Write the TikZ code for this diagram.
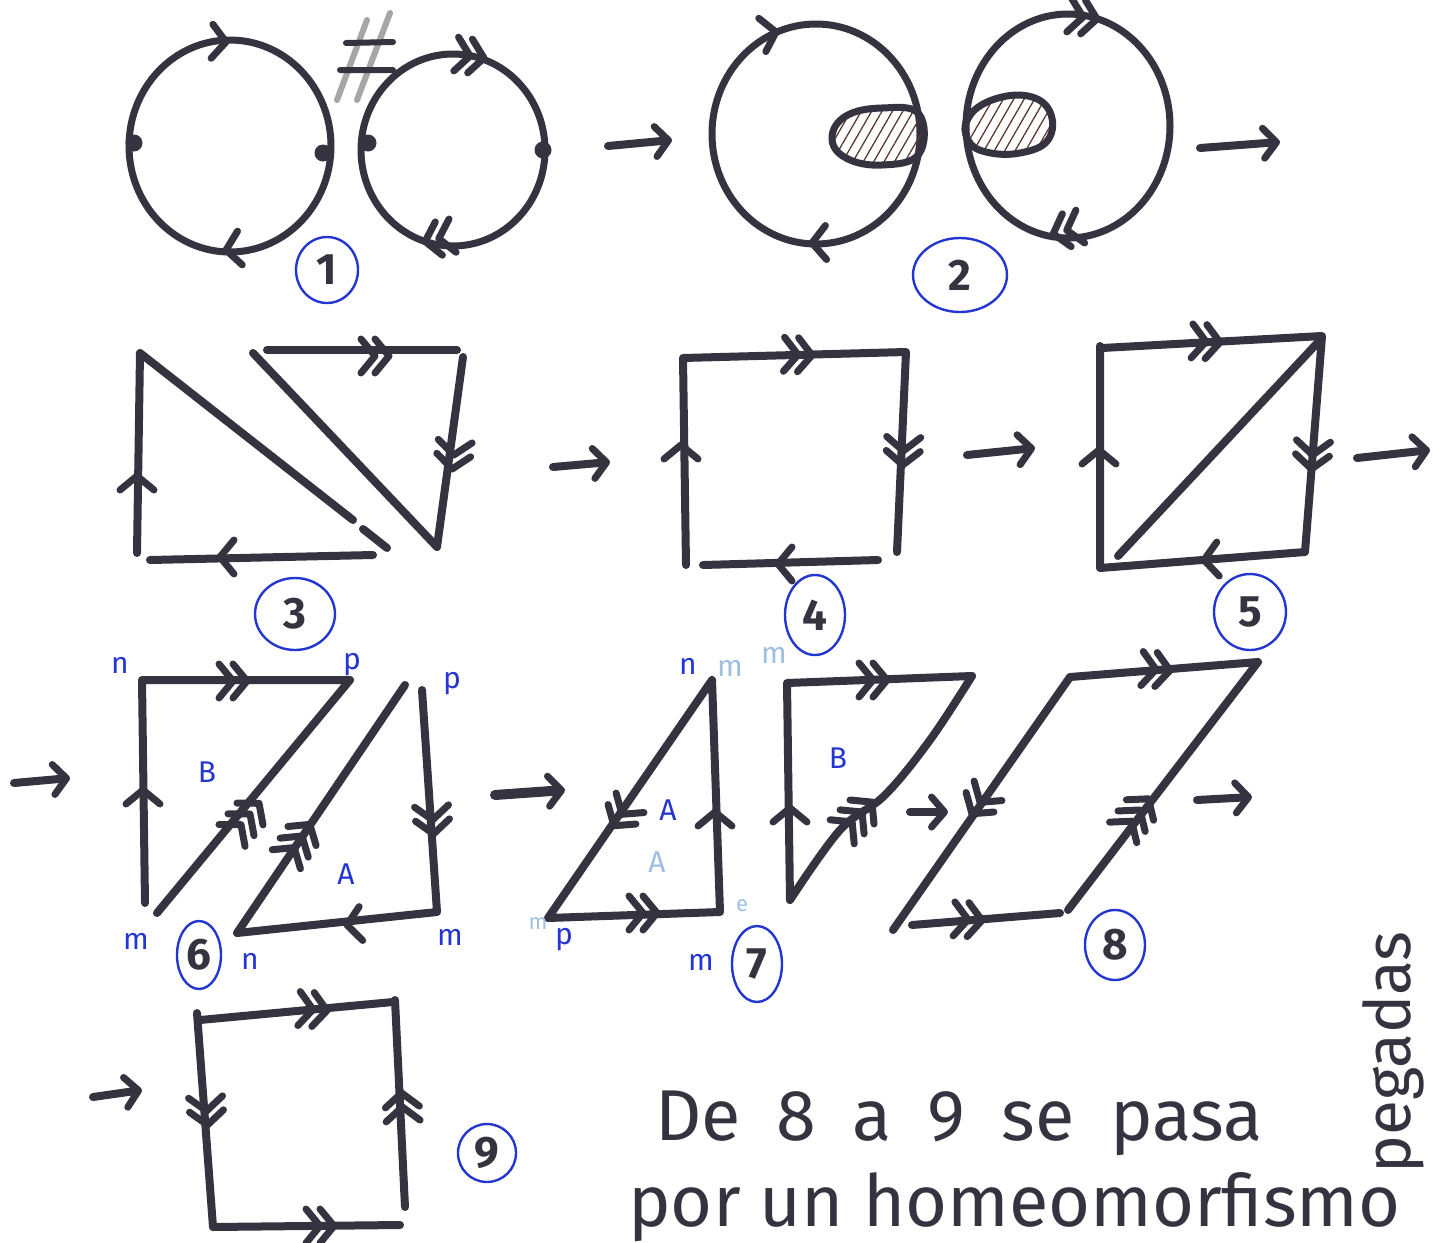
\documentclass[tikz,border=0pt]{standalone}
\usepackage{fontspec}
\setmainfont{Fira Sans}
\usetikzlibrary{arrows.meta,patterns.meta,shapes.geometric}
\definecolor{ink}{HTML}{34333F}
\definecolor{bpen}{HTML}{2436D0}
\definecolor{fade}{HTML}{9FBFE0}
\definecolor{hatch}{HTML}{5A3A30}
\tikzset{
  stroke/.style={draw=ink, line width=8pt, line cap=round, line join=round},
  loopline/.style={draw=ink, line width=7pt},
  chevs/.style={draw=ink, line width=7pt, line cap=round, line join=round},
  ch1/.pic={\draw[chevs] (-14,-17) -- (0,0) -- (-14,17);},
  ch2/.pic={\draw[chevs] (-7,-17) -- (7,0) -- (-7,17) (-21,-17) -- (-7,0) -- (-21,17);},
  ch3/.pic={\draw[chevs] (0,-17) -- (14,0) -- (0,17) (-14,-17) -- (0,0) -- (-14,17) (-28,-17) -- (-14,0) -- (-28,17);},
  goarrow/.style={draw=ink, line width=8pt, line cap=round,
     -{Straight Barb[length=13pt,width=30pt,line width=7pt,round]}},
  numcirc/.style={ellipse, draw=bpen, line width=2.4pt, inner sep=0pt,
     text=ink, font=\fontsize{44}{44}\selectfont\bfseries},
  lbl/.style={text=bpen, font=\fontsize{30}{30}\selectfont, inner sep=0pt},
  flbl/.style={text=fade, font=\fontsize{30}{30}\selectfont, inner sep=0pt},
  hand/.style={text=ink, font=\fontsize{72}{72}\selectfont, inner sep=0pt},
  dot/.style={circle, fill=ink, inner sep=0pt, minimum size=17pt},
  hatched/.style={loopline, pattern={Lines[angle=60,distance=9pt,line width=1.3pt]}, pattern color=hatch}
}
\begin{document}
\begin{tikzpicture}[x=1pt,y=-1pt]
\useasboundingbox (0,0) rectangle (1444,1243);

% ---------- figure 1 ----------
\draw[loopline] (230,146) ellipse [x radius=101pt, y radius=106pt];
\draw[loopline] (453,150) ellipse [x radius=92pt, y radius=96pt];
\node[dot] (d1) at (134,143) {};
\node[dot] (d2) at (323,153) {};
\node[dot] (d3) at (368,143) {};
\node[dot] (d4) at (543,150) {};
\pic[rotate=-3] at (226,42) {ch1};
\pic[rotate=188] at (226,250) {ch1};
\pic[rotate=-8] at (477,57) {ch2};
\pic[rotate=192] at (432,240) {ch2};
\draw[draw=gray!70, line width=6pt, line cap=round] (337,100) -- (367,20) (357,100) -- (390,13);
\draw[stroke, line width=6pt] (346,43) -- (393,42) (340,70) -- (393,70);
\node[numcirc, minimum width=62pt, minimum height=66pt] (n1) at (327,270) {1};
\coordinate (a1s) at (608,146); \coordinate (a1e) at (672,140);
\draw[goarrow] (a1s) -- (a1e);

% ---------- figure 2 ----------
\draw[loopline] (816,134) ellipse [x radius=104pt, y radius=110pt];
\draw[loopline] (1068,126) ellipse [x radius=102pt, y radius=112pt];
\draw[hatched] plot[smooth cycle, tension=0.7] coordinates
  {(919,114) (882,108) (846,116) (832,138) (846,158) (882,165) (919,154)};
\draw[hatched] plot[smooth cycle, tension=0.7] coordinates
  {(968,118) (992,100) (1028,96) (1050,112) (1048,140) (1020,153) (986,152) (968,140)};
\pic[rotate=12] at (776,32) {ch1};
\pic[rotate=182] at (812,243) {ch1};
\pic[rotate=-8] at (1090,18) {ch2};
\pic[rotate=195] at (1060,232) {ch2};
\node[numcirc, minimum width=94pt, minimum height=74pt] (n2) at (960,275) {2};
\coordinate (a2s) at (1200,148); \coordinate (a2e) at (1280,142);
\draw[goarrow] (a2s) -- (a2e);

% ---------- figure 3 ----------
\draw[stroke] (137,553) -- (140,353) -- (353,520);
\draw[stroke] (363,529) -- (387,548);
\draw[stroke] (373,555) -- (150,560);
\draw[stroke] (253,353) -- (437,547) -- (463,357);
\draw[stroke] (267,350) -- (457,350);
\pic[rotate=90] at (137,476) {ch1};
\pic[rotate=180] at (220,557) {ch1};
\pic[rotate=0] at (382,356) {ch2};
\pic[rotate=-96] at (453,462) {ch2};
\node[numcirc, minimum width=80pt, minimum height=72pt] (n3) at (295,614) {3};
\coordinate (a3s) at (553,467); \coordinate (a3e) at (610,462);
\draw[goarrow] (a3s) -- (a3e);

% ---------- figure 4 ----------
\draw[stroke] (686,565) -- (683,358) -- (906,352) -- (897,552);
\draw[stroke] (878,560) -- (703,565);
\pic[rotate=90] at (681,445) {ch1};
\pic[rotate=-2] at (805,355) {ch2};
\pic[rotate=-92] at (903,458) {ch2};
\pic[rotate=180] at (778,564) {ch1};
\node[numcirc, minimum width=60pt, minimum height=80pt] (n4) at (815,615) {4};
\coordinate (a4s) at (967,455); \coordinate (a4e) at (1035,448);
\draw[goarrow] (a4s) -- (a4e);

% ---------- figure 5 ----------
\draw[stroke] (1100,568) -- (1100,346) (1102,348) -- (1322,336) -- (1305,552) -- (1100,568);
\draw[stroke] (1322,338) -- (1118,556);
\pic[rotate=90] at (1099,450) {ch1};
\pic[rotate=-3] at (1213,342) {ch2};
\pic[rotate=-94] at (1312,462) {ch2};
\pic[rotate=184] at (1204,560) {ch1};
\node[numcirc, minimum width=72pt, minimum height=76pt] (n5) at (1250,612) {5};
\coordinate (a5s) at (1357,458); \coordinate (a5e) at (1430,450);
\draw[goarrow] (a5s) -- (a5e);

% ---------- figure 6 ----------
\coordinate (a6s) at (14,783); \coordinate (a6e) at (70,778);
\draw[goarrow] (a6s) -- (a6e);
\draw[stroke] (145,903) -- (142,680) -- (350,680) -- (157,913);
\draw[stroke] (405,685) -- (237,933) -- (437,912) -- (422,690);
\pic[rotate=90] at (143,790) {ch1};
\pic[rotate=0] at (240,681) {ch2};
\pic[rotate=50] at (250,814) {ch3};
\pic[rotate=56] at (302,836) {ch3};
\pic[rotate=-86] at (433,827) {ch2};
\pic[rotate=186] at (347,925) {ch1};
\node[lbl] (l6n) at (120,665) {n};
\node[lbl] (l6p) at (352,665) {p};
\node[lbl] (l6p2) at (452,684) {p};
\node[lbl] (l6B) at (207,772) {B};
\node[lbl] (l6A) at (346,874) {A};
\node[lbl] (l6m) at (136,941) {m};
\node[lbl] (l6n2) at (250,961) {n};
\node[lbl] (l6m2) at (450,937) {m};
\node[numcirc, minimum width=44pt, minimum height=68pt] (n6) at (199,955) {6};
\coordinate (a7s) at (495,795); \coordinate (a7e) at (565,790);
\draw[goarrow, line width=10pt] (a7s) -- (a7e);

% ---------- figure 7 ----------
\draw[stroke] (712,680) -- (548,918) -- (720,912) -- cycle;
\pic[rotate=235] at (618,820) {ch2};
\pic[rotate=90] at (715,812) {ch1};
\pic[rotate=0] at (650,913) {ch2};
\draw[stroke] (790,900) -- (787,683) -- (972,676);
\draw[stroke] plot[smooth, tension=0.6] coordinates {(972,676) (930,740) (885,795) (840,830) (790,900)};
\pic[rotate=90] at (790,808) {ch1};
\pic[rotate=0] at (880,680) {ch2};
\pic[rotate=45] at (862,812) {ch3};
\node[lbl] (l7n) at (688,666) {n};
\node[flbl] (l7f1) at (730,668) {m};
\node[flbl] (l7f2) at (774,655) {m};
\node[lbl] (l7A) at (668,810) {A};
\node[flbl] (l7A2) at (657,862) {A};
\node[flbl, font=\fontsize{22}{22}\selectfont] (l7f3) at (538,924) {m};
\node[lbl] (l7p) at (564,940) {p};
\node[lbl] (l7m) at (701,962) {m};
\node[flbl, font=\fontsize{22}{22}\selectfont] (l7f4) at (742,906) {e};
\node[lbl] (l7B) at (838,758) {B};
\node[numcirc, minimum width=50pt, minimum height=76pt] (n7) at (757,964) {7};
\coordinate (a8s) at (910,812); \coordinate (a8e) at (948,812);
\draw[goarrow] (a8s) -- (a8e);

% ---------- figure 8 ----------
\draw[stroke] (1070,677) -- (893,930);
\draw[stroke] (1070,677) -- (1258,662) -- (1068,910);
\draw[stroke] (912,925) -- (1060,913);
\pic[rotate=-4] at (1163,670) {ch2};
\pic[rotate=235] at (976,808) {ch2};
\pic[rotate=-3] at (975,920) {ch2};
\pic[rotate=53] at (1140,810) {ch3};
\node[numcirc, minimum width=60pt, minimum height=70pt] (n8) at (1115,945) {8};
\coordinate (a9s) at (1197,800); \coordinate (a9e) at (1252,797);
\draw[goarrow] (a9s) -- (a9e);

% ---------- figure 9 ----------
\coordinate (a10s) at (93,1097); \coordinate (a10e) at (142,1090);
\draw[goarrow] (a10s) -- (a10e);
\draw[stroke] (213,1227) -- (197,1013) (200,1020) -- (393,1002);
\draw[stroke] (405,1207) -- (395,1000);
\draw[stroke] (213,1227) -- (400,1225);
\pic[rotate=-4] at (320,1010) {ch2};
\pic[rotate=-86] at (207,1118) {ch2};
\pic[rotate=93] at (402,1100) {ch2};
\pic[rotate=0] at (327,1226) {ch2};
\node[numcirc, minimum width=58pt, minimum height=58pt] (n9) at (487,1153) {9};

% ---------- text ----------
\node[hand, anchor=base west] (t1) at (655,1140) {\spaceskip=36pt De 8 a 9 se pasa};
\node[hand, anchor=base west] (t2) at (628,1226) {por un homeomorfismo};
\node[hand, font=\fontsize{64}{64}\selectfont, rotate=90, anchor=base west] (t3) at (1410,1174) {pegadas};
\end{tikzpicture}
\end{document}
